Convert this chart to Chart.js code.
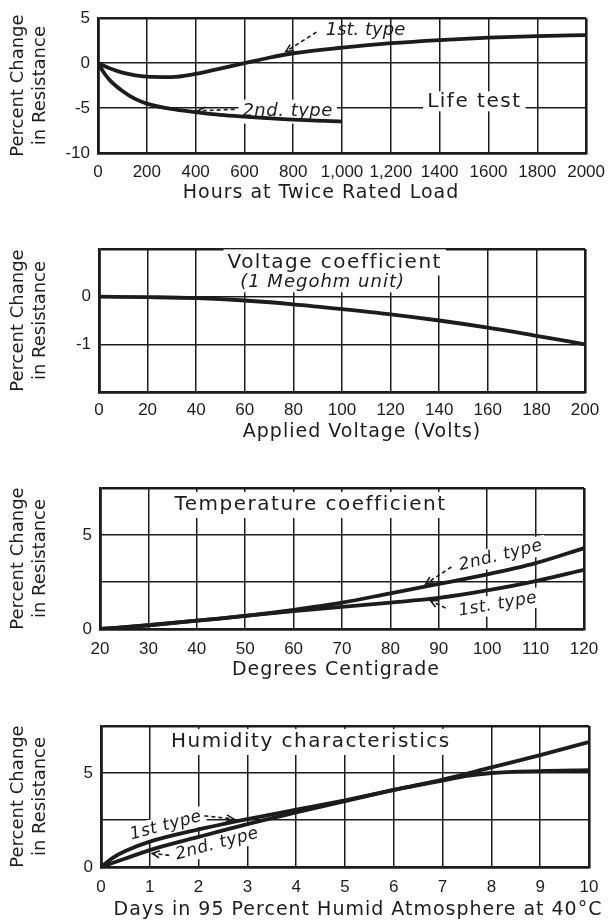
<!DOCTYPE html>
<html>
<head>
<meta charset="utf-8">
<script src="https://cdn.jsdelivr.net/npm/chart.js@4.4.1/dist/chart.umd.min.js"></script>
<style>
  body { margin: 0; background: #fff; width: 614px; height: 920px; overflow: hidden; position: relative; }
  canvas { position: absolute; left: 0; }
</style>
</head>
<body>
<canvas id="life" width="614" height="210" style="top:0px"></canvas>
<canvas id="volt" width="614" height="235" style="top:215px"></canvas>
<canvas id="temp" width="614" height="235" style="top:450px"></canvas>
<canvas id="hum" width="614" height="235" style="top:685px"></canvas>
<script>
// --- data ---
const lifeHours1 = [0, 50, 100, 200, 300, 400, 500, 600, 700, 800, 1000, 1200, 1400, 1600, 1800, 2000];
const lifeType1 = [0, -0.6, -1.05, -1.5, -1.55, -1.2, -0.6, 0, 0.6, 1.1, 1.72, 2.22, 2.57, 2.83, 3.0, 3.12];
const lifeHours2 = [0, 25, 50, 100, 150, 200, 300, 400, 500, 600, 800, 1000];
const lifeType2 = [0, -1.1, -1.95, -3.1, -3.95, -4.5, -5.1, -5.45, -5.75, -5.95, -6.28, -6.5];
const lifeXLabels = ['0', '200', '400', '600', '800', '1,000', '1,200', '1400', '1600', '1800', '2000'];
const lifeYLabels = [5, 0, -5, -10];

const voltVolts = [0, 20, 40, 60, 80, 100, 120, 140, 160, 180, 200];
const voltChange = [0, -0.01, -0.03, -0.08, -0.16, -0.26, -0.37, -0.5, -0.65, -0.82, -1.0];
const voltXLabels = ['0', '20', '40', '60', '80', '100', '120', '140', '160', '180', '200'];
const voltYLabels = [0, -1];

const tempDeg = [20, 30, 40, 50, 60, 70, 80, 90, 100, 110, 120];
const tempType1 = [0, 0.2, 0.44, 0.7, 0.95, 1.18, 1.4, 1.65, 2.05, 2.55, 3.15];
const tempType2 = [0, 0.2, 0.44, 0.7, 1.02, 1.4, 1.9, 2.4, 2.9, 3.5, 4.3];
const tempXLabels = ['20', '30', '40', '50', '60', '70', '80', '90', '100', '110', '120'];
const tempYLabels = [0, 5];

const humDays1 = [0, 0.25, 0.5, 1, 2, 3, 4, 5, 6, 7, 7.5, 8, 9, 10];
const humType1 = [0, 0.5, 0.85, 1.35, 2.0, 2.55, 3.05, 3.55, 4.1, 4.6, 4.85, 5.0, 5.1, 5.15];
const humDays2 = [0, 0.5, 1, 2, 3, 4, 5, 6, 7, 8, 9, 10];
const humType2 = [0, 0.45, 0.9, 1.6, 2.28, 2.9, 3.5, 4.1, 4.65, 5.3, 5.95, 6.65];
const humXLabels = ['0', '1', '2', '3', '4', '5', '6', '7', '8', '9', '10'];
const humYLabels = [0, 5];

const INK = '#1c1c1c';
const LETTER = "'DejaVu Sans', 'Liberation Sans', sans-serif";
Chart.defaults.font.family = "'Liberation Sans', Arial, sans-serif";
Chart.defaults.font.size = 17;
Chart.defaults.color = INK;

const HEAD = '20px ' + LETTER;
const ITAL = 'italic 17px ' + LETTER;

function drawArrow(ctx, x0, y0, x1, y1) {
  ctx.save();
  ctx.strokeStyle = INK;
  ctx.lineWidth = 1.6;
  ctx.setLineDash([4, 3]);
  ctx.beginPath(); ctx.moveTo(x0, y0); ctx.lineTo(x1, y1); ctx.stroke();
  ctx.setLineDash([]);
  const a = Math.atan2(y1 - y0, x1 - x0);
  ctx.beginPath();
  ctx.moveTo(x1 - 8 * Math.cos(a - 0.45), y1 - 8 * Math.sin(a - 0.45));
  ctx.lineTo(x1, y1);
  ctx.lineTo(x1 - 8 * Math.cos(a + 0.45), y1 - 8 * Math.sin(a + 0.45));
  ctx.stroke();
  ctx.restore();
}

// text labels inside the plots, plus the x axis title drawn with letter spacing
function notesPlugin(notes, xTitle) {
  function place(chart, n) {
    return [chart.scales.x.getPixelForValue(n.x), chart.scales.y.getPixelForValue(n.y)];
  }
  function withText(ctx, n, px, py, fn) {
    ctx.save();
    ctx.translate(px, py);
    ctx.rotate((n.rot || 0) * Math.PI / 180);
    ctx.font = n.font;
    ctx.letterSpacing = (n.spacing || 0) + 'px';
    ctx.textAlign = 'center';
    ctx.textBaseline = 'middle';
    fn(ctx.measureText(n.text).width);
    ctx.restore();
  }
  return {
    id: 'notes',
    beforeDatasetsDraw(chart) {
      const ctx = chart.ctx;
      notes.forEach(n => {
        if (!n.bg) return;
        const [px, py] = place(chart, n);
        withText(ctx, n, px, py, w => {
          ctx.fillStyle = '#fff';
          ctx.fillRect(-w / 2 - 4, -n.bg / 2, w + 8, n.bg);
        });
      });
      notes.forEach(n => {
        const [px, py] = place(chart, n);
        withText(ctx, n, px, py, () => {
          ctx.fillStyle = INK;
          ctx.fillText(n.text, 0, 0);
        });
        if (n.arrow) {
          const s = chart.scales;
          drawArrow(ctx,
            s.x.getPixelForValue(n.arrow[0]), s.y.getPixelForValue(n.arrow[1]),
            s.x.getPixelForValue(n.arrow[2]), s.y.getPixelForValue(n.arrow[3]));
        }
      });
    },
    afterDraw(chart) {
      const ctx = chart.ctx;
      ctx.save();
      ctx.font = '19px ' + LETTER;
      ctx.letterSpacing = '1px';
      ctx.fillStyle = INK;
      ctx.textAlign = 'center';
      ctx.textBaseline = 'middle';
      ctx.fillText(xTitle.text, xTitle.cx, xTitle.cy);
      ctx.restore();
    }
  };
}

function makeChart(id, cfg) {
  const canvas = document.getElementById(id);
  const H = canvas.height;
  const box = cfg.box;
  const edgeWidth = (lo, hi) => c => (c.tick && (c.tick.value === lo || c.tick.value === hi)) ? 2.6 : 1.5;
  new Chart(canvas, {
    type: 'line',
    data: {
      datasets: cfg.series.map(s => ({
        data: s.xs.map((v, i) => ({ x: v, y: s.ys[i] })),
        borderColor: INK,
        borderWidth: 3.8,
        pointRadius: 0,
        cubicInterpolationMode: 'monotone',
        fill: false
      }))
    },
    options: {
      responsive: false,
      animation: false,
      layout: { padding: { top: box.top, right: 614 - box.right, bottom: 0, left: 0 } },
      plugins: { legend: { display: false }, tooltip: { enabled: false } },
      scales: {
        x: {
          type: 'linear',
          min: cfg.x.min, max: cfg.x.max,
          ticks: {
            stepSize: cfg.x.step, autoSkip: false, maxRotation: 0, padding: cfg.x.pad,
            callback: (v, i) => cfg.x.labels[i]
          },
          grid: { color: INK, lineWidth: edgeWidth(cfg.x.min, cfg.x.max), drawTicks: false },
          border: { color: INK, width: 2.6 },
          afterFit: s => { s.height = H - box.bottom; }
        },
        y: {
          min: cfg.y.min, max: cfg.y.max,
          ticks: {
            stepSize: cfg.y.step, padding: 8,
            callback: v => cfg.y.labels.includes(v) ? String(v) : ''
          },
          grid: { color: INK, lineWidth: edgeWidth(cfg.y.min, cfg.y.max), drawTicks: false },
          border: { color: INK, width: 2.6 },
          title: {
            display: true,
            text: ['Percent Change', 'in Resistance'],
            font: { family: LETTER, size: 18, lineHeight: 1.25 },
            padding: { top: 7, bottom: 0 }
          },
          afterFit: s => { s.width = box.left; }
        }
      }
    },
    plugins: [notesPlugin(cfg.notes, cfg.xTitle)]
  });
}

makeChart('life', {
  box: { top: 12, bottom: 153, left: 98, right: 587 },
  series: [{ xs: lifeHours1, ys: lifeType1 }, { xs: lifeHours2, ys: lifeType2 }],
  x: { min: 0, max: 2000, step: 200, labels: lifeXLabels, pad: 9 },
  y: { min: -10, max: 5, step: 5, labels: lifeYLabels },
  xTitle: { text: 'Hours at Twice Rated Load', cx: 321, cy: 193 },
  notes: [
    { text: '1st. type', x: 1096, y: 3.6, font: 'italic 18px ' + LETTER, arrow: [895, 3.45, 770, 1.3] },
    { text: '2nd. type', x: 777, y: -5.4, font: 'italic 18px ' + LETTER, spacing: 0.5, bg: 24, arrow: [560, -5.15, 410, -5.3] },
    { text: 'Life test', x: 1542, y: -4.25, font: HEAD, spacing: 1.5, bg: 20 }
  ]
});

makeChart('volt', {
  box: { top: 34, bottom: 177, left: 99, right: 585 },
  series: [{ xs: voltVolts, ys: voltChange }],
  x: { min: 0, max: 200, step: 20, labels: voltXLabels, pad: 8 },
  y: { min: -2, max: 1, step: 1, labels: voltYLabels },
  xTitle: { text: 'Applied Voltage (Volts)', cx: 362, cy: 217 },
  notes: [
    { text: 'Voltage coefficient', x: 97, y: 0.72, font: HEAD, spacing: 1.5, bg: 26 },
    { text: '(1 Megohm unit)', x: 92, y: 0.3, font: 'italic 18px ' + LETTER, spacing: 1, bg: 20 }
  ]
});

makeChart('temp', {
  box: { top: 38, bottom: 179, left: 100, right: 584 },
  series: [{ xs: tempDeg, ys: tempType1 }, { xs: tempDeg, ys: tempType2 }],
  x: { min: 20, max: 120, step: 10, labels: tempXLabels, pad: 10 },
  y: { min: 0, max: 7.5, step: 2.5, labels: tempYLabels },
  xTitle: { text: 'Degrees Centigrade', cx: 336, cy: 220 },
  notes: [
    { text: 'Temperature coefficient', x: 63.5, y: 6.6, font: HEAD, spacing: 1.5, bg: 26 },
    { text: '2nd. type', x: 102.8, y: 3.9, rot: -14, font: ITAL, spacing: 0.5, bg: 20, arrow: [92.6, 3.3, 87.3, 2.4] },
    { text: '1st. type', x: 102.2, y: 1.3, rot: -10, font: ITAL, spacing: 0.5, bg: 20, arrow: [91.4, 1.12, 88.3, 1.5] }
  ]
});

makeChart('hum', {
  box: { top: 41, bottom: 182, left: 101, right: 589 },
  series: [{ xs: humDays1, ys: humType1 }, { xs: humDays2, ys: humType2 }],
  x: { min: 0, max: 10, step: 1, labels: humXLabels, pad: 10 },
  y: { min: 0, max: 7.5, step: 2.5, labels: humYLabels },
  xTitle: { text: 'Days in 95 Percent Humid Atmosphere at 40°C', cx: 358, cy: 225 },
  notes: [
    { text: 'Humidity characteristics', x: 4.3, y: 6.65, font: HEAD, spacing: 1.5, bg: 26 },
    { text: '1st type', x: 1.33, y: 2.2, rot: -15, font: ITAL, spacing: 0.5, bg: 20, arrow: [2.12, 2.72, 2.72, 2.55] },
    { text: '2nd. type', x: 2.38, y: 1.22, rot: -15, font: ITAL, spacing: 0.5, bg: 20, arrow: [1.4, 0.62, 1.05, 0.72] }
  ]
});
</script>
</body>
</html>
